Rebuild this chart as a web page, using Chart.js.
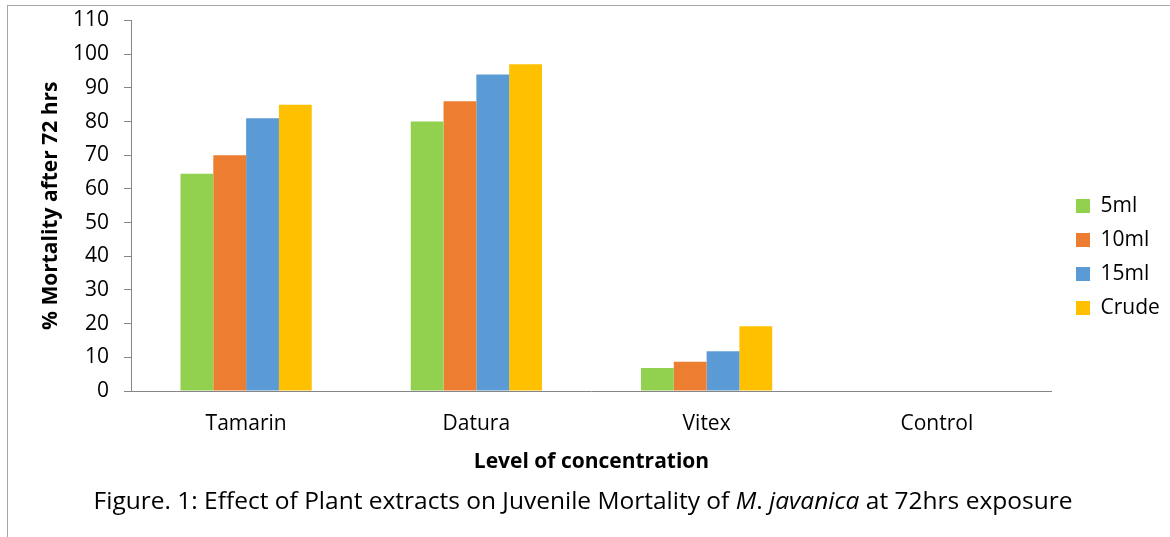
<!DOCTYPE html>
<html><head><meta charset="utf-8">
<script src="https://cdn.jsdelivr.net/npm/chart.js@4/dist/chart.umd.min.js"></script>
<style>
html,body{margin:0;padding:0;background:#fff;}
#wrap{position:relative;width:1170px;height:537px;overflow:hidden;}
#frame{position:absolute;left:7px;top:5px;width:1200px;height:600px;border-top:1px solid #a6a6a6;border-left:1px solid #a6a6a6;}
canvas{position:absolute;left:0;top:0;}
#caption{position:absolute;left:0;width:1166px;top:485px;line-height:30px;text-align:center;font-family:"Open Sans";font-size:24.5px;color:#000;white-space:nowrap;}
</style></head>
<body>
<div id="wrap">
<div id="frame"></div>
<canvas id="c" width="1170" height="537"></canvas>
<div id="caption">Figure. 1: Effect of Plant extracts on Juvenile Mortality of <i>M</i>. <i>javanica</i> at 72hrs exposure</div>
</div>
<script>
const categories = ['Tamarin', 'Datura', 'Vitex', 'Control'];
const seriesNames = ['5ml', '10ml', '15ml', 'Crude'];
const values5ml = [64.5, 80, 6.8, 0];
const values10ml = [70, 86, 8.7, 0];
const values15ml = [81, 94, 11.8, 0];
const valuesCrude = [85, 97, 19.2, 0];
const seriesColors = ['#92D050', '#ED7D31', '#5B9BD5', '#FFC000'];
const yMin = 0, yMax = 110, yStep = 10;
const yTitle = '% Mortality after 72 hrs';
const xTitle = 'Level of concentration';

Chart.defaults.font.family = 'Open Sans';
Chart.defaults.color = '#000';

const legendPos = {
  id: 'legendPos',
  afterLayout(chart) {
    const lg = chart.legend;
    const w = lg.width;
    lg.left = 1063; lg.right = 1063 + w;
    lg.top = 0; lg.bottom = 514;
  }
};

const allValues = [values5ml, values10ml, values15ml, valuesCrude];
const chart = new Chart(document.getElementById('c'), {
  type: 'bar',
  data: {
    labels: categories,
    datasets: seriesNames.map((n, i) => ({
      label: n,
      data: allValues[i],
      backgroundColor: seriesColors[i],
      borderWidth: 0,
      barPercentage: 1,
      categoryPercentage: 0.57
    }))
  },
  options: {
    responsive: false,
    animation: false,
    layout: { padding: { left: 0, top: 20.5, right: 11.2, bottom: 0 } },
    plugins: {
      tooltip: { enabled: false },
      legend: {
        position: 'right',
        labels: { boxWidth: 14, boxHeight: 14, padding: 13, font: { size: 21 }, color: '#000' }
      }
    },
    scales: {
      x: {
        grid: { display: false, drawTicks: false },
        border: { display: true, color: '#868686', width: 1 },
        ticks: { padding: 20, font: { size: 21 }, color: '#000' },
        title: { display: true, text: xTitle, font: { size: 21, weight: 'bold' }, padding: { top: 0, bottom: 62.4 }, color: '#000' },
        afterFit(s) { s.height = 146; s.paddingLeft = 0; s.paddingRight = 0; }
      },
      y: {
        min: yMin, max: yMax,
        grid: { drawOnChartArea: false, drawTicks: true, tickLength: 7, color: '#868686' },
        border: { display: true, color: '#868686', width: 1 },
        ticks: { stepSize: yStep, padding: 15, font: { size: 21 }, color: '#000' },
        title: { display: true, text: yTitle, font: { size: 21, weight: 'bold' }, padding: { top: 38, bottom: 0 }, color: '#000' },
        afterFit(s) { s.width = 131; s.paddingTop = 0; s.paddingBottom = 0; }
      }
    }
  },
  plugins: [legendPos]
});
</script>
</body></html>
